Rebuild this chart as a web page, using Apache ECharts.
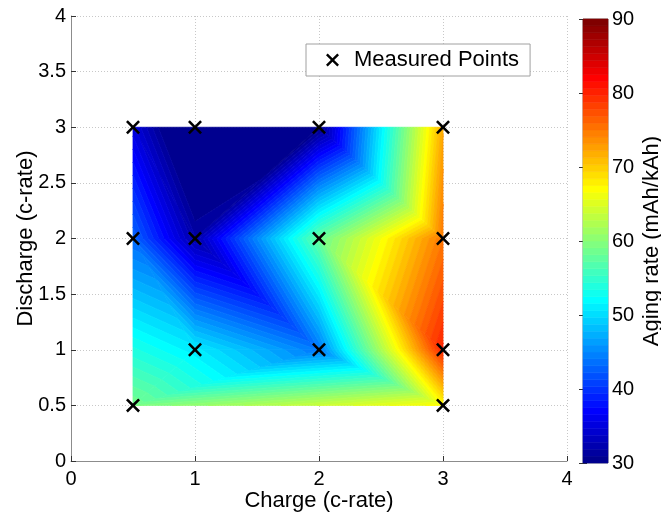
<!DOCTYPE html>
<html>
<head>
<meta charset="utf-8">
<script src="https://cdn.jsdelivr.net/npm/echarts@6/dist/echarts.min.js"></script>
<style>
	html, body { margin: 0; padding: 0; background: #fff; }
	#chart { width: 661px; height: 512px; }
</style>
</head>
<body>
<div id="chart"></div>
<script>
// measured points
var chargeRate    = [0.5, 1, 2, 3,   0.5, 1, 2, 3,   1, 2, 3,   0.5, 3];
var dischargeRate = [3, 3, 3, 3,     2, 2, 2, 2,     1, 1, 1,   0.5, 0.5];
var agingRate     = [35, 25, 30, 72, 43, 32, 58, 75, 51, 44, 80, 59, 67];

// triangulation of the measured points (indices into the arrays above)
var triangles = [
	[0, 1, 5], [0, 5, 4], [1, 2, 5], [2, 6, 5], [2, 3, 7], [2, 7, 6],
	[4, 5, 8], [4, 8, 11], [5, 9, 8], [5, 6, 9], [6, 7, 10], [6, 10, 9],
	[8, 9, 11], [9, 12, 11], [9, 10, 12]
];

var axisTicks = [0, 1, 2, 3, 4];
var colorRange = [30, 90];
var nLevels = 64;

var axisGray = '#8c8c8c';
var xPath = 'path://M1.3,0L5,3.7L8.7,0L10,1.3L6.3,5L10,8.7L8.7,10L5,6.3L1.3,10L0,8.7L3.7,5L0,1.3Z';

// matlab jet(64)
var jet = (function () {
	var m = nLevels, n = Math.ceil(m / 4), u = [], i;
	for (i = 1; i <= n; i++) u.push(i / n);
	for (i = 1; i < n; i++) u.push(1);
	for (i = n; i >= 1; i--) u.push(i / n);
	var g0 = Math.ceil(n / 2) - (m % 4 === 1 ? 1 : 0);
	var cols = [];
	for (i = 0; i < m; i++) cols.push([0, 0, 0]);
	for (i = 0; i < u.length; i++) {
		var g = g0 + i + 1, r = g + n, b = g - n;
		if (r <= m) cols[r - 1][0] = u[i];
		cols[g - 1][1] = u[i];
		if (b >= 1) cols[b - 1][2] = u[i];
	}
	return cols.map(function (c) {
		return 'rgb(' + Math.round(c[0] * 255) + ',' + Math.round(c[1] * 255) + ',' + Math.round(c[2] * 255) + ')';
	});
})();

function clip(poly, lev, above) {			// keep part of polygon on one side of level
	var out = [];
	for (var i = 0; i < poly.length; i++) {
		var a = poly[i], b = poly[(i + 1) % poly.length];
		var ain = above ? a.v >= lev : a.v <= lev,
			bin = above ? b.v >= lev : b.v <= lev;
		if (ain) out.push(a);
		if (ain !== bin) {
			var t = (lev - a.v) / (b.v - a.v);
			out.push({ x: a.x + t * (b.x - a.x), y: a.y + t * (b.y - a.y), v: lev });
		}
	}
	return out;
}

function renderTri(params, api) {
	var tri = triangles[params.dataIndex];
	var poly = tri.map(function (k) {
		return { x: chargeRate[k], y: dischargeRate[k], v: agingRate[k] };
	});
	var step = (colorRange[1] - colorRange[0]) / nLevels;
	var children = [];
	for (var k = 0; k < nLevels; k++) {
		var p = poly;
		if (k > 0) p = clip(p, colorRange[0] + k * step, true);
		if (p.length < 3) continue;
		if (k < nLevels - 1) p = clip(p, colorRange[0] + (k + 1) * step, false);
		if (p.length < 3) continue;
		children.push({
			type: 'polygon',
			shape: { points: p.map(function (q) { return api.coord([q.x, q.y]); }) },
			style: { fill: jet[k], stroke: jet[k], lineWidth: 0.8 }
		});
	}
	return { type: 'group', children: children };
}

function renderBar(params, api) {
	var step = (colorRange[1] - colorRange[0]) / nLevels;
	var children = [];
	for (var k = 0; k < nLevels; k++) {
		var p0 = api.coord([0, colorRange[0] + k * step]),
			p1 = api.coord([1, colorRange[0] + (k + 1) * step]);
		children.push({
			type: 'rect',
			shape: { x: p0[0], y: p1[1], width: p1[0] - p0[0], height: p0[1] - p1[1] },
			style: { fill: jet[k], stroke: jet[k], lineWidth: 0.6 }
		});
	}
	return { type: 'group', children: children };
}

var font = 'Liberation Sans, Arial, sans-serif';

var chart = echarts.init(document.getElementById('chart'));
chart.setOption({
	animation: false,
	textStyle: { fontFamily: font },
	grid: [
		{ left: 71, top: 16, right: 94, bottom: 51, outerBoundsMode: 'none', containLabel: false },
		{ left: 583, top: 19, width: 25, bottom: 49, outerBoundsMode: 'none', containLabel: false,
			show: true, borderColor: axisGray, borderWidth: 1 }
	],
	legend: {
		left: 306, top: 44,
		padding: [5, 11, 5, 20],
		itemWidth: 33, itemHeight: 13,
		backgroundColor: '#fff',
		borderColor: '#a0a0a0', borderWidth: 1, borderRadius: 0,
		textStyle: { fontSize: 22, color: '#000', fontFamily: font },
		data: [{ name: 'Measured Points', icon: xPath }]
	},
	xAxis: [
		{
			gridIndex: 0, type: 'value', min: axisTicks[0], max: axisTicks[axisTicks.length - 1], interval: 1,
			name: 'Charge (c-rate)', nameLocation: 'middle', nameGap: 29, nameMoveOverlap: false,
			nameTextStyle: { fontSize: 22, color: '#000' },
			axisLine: { lineStyle: { color: axisGray } },
			axisTick: { inside: true, length: 5, lineStyle: { color: '#333' } },
			axisLabel: { fontSize: 20, color: '#000', margin: 8 },
			splitLine: { show: true, lineStyle: { color: '#c8c8c8', type: [1, 2] } }
		},
		{ gridIndex: 1, type: 'value', min: 0, max: 1, show: false }
	],
	yAxis: [
		{
			gridIndex: 0, type: 'value', min: 0, max: 4, interval: 0.5,
			name: 'Discharge (c-rate)', nameLocation: 'middle', nameGap: 34, nameMoveOverlap: false,
			nameTextStyle: { fontSize: 22, color: '#000' },
			axisLine: { show: true, lineStyle: { color: axisGray } },
			axisTick: { show: true, inside: true, length: 5, lineStyle: { color: '#333' } },
			axisLabel: { fontSize: 20, color: '#000', margin: 5 },
			splitLine: { show: true, lineStyle: { color: '#c8c8c8', type: [1, 2] } }
		},
		{
			gridIndex: 1, type: 'value', min: colorRange[0], max: colorRange[1], interval: 10,
			position: 'right',
			name: 'Aging rate (mAh/kAh)', nameLocation: 'middle', nameGap: 33, nameRotate: 90,
			nameMoveOverlap: false,
			nameTextStyle: { fontSize: 22, color: '#000' },
			axisLine: { show: false },
			axisTick: { show: true, inside: true, length: 4, lineStyle: { color: '#333' } },
			axisLabel: { fontSize: 20, color: '#000', margin: 4 },
			splitLine: { show: false }
		},
		{
			gridIndex: 1, type: 'value', min: colorRange[0], max: colorRange[1], interval: 10,
			position: 'left',
			axisLine: { show: false },
			axisTick: { show: true, inside: true, length: 4, lineStyle: { color: '#333' } },
			axisLabel: { show: false },
			splitLine: { show: false }
		}
	],
	series: [
		{
			type: 'custom', name: 'surface', xAxisIndex: 0, yAxisIndex: 0,
			renderItem: renderTri, data: triangles.map(function (t, i) { return [i]; }),
			silent: true, z: 1
		},
		{
			type: 'scatter', name: 'Measured Points', xAxisIndex: 0, yAxisIndex: 0,
			symbol: xPath, symbolSize: 14,
			itemStyle: { color: '#000', opacity: 1 },
			data: chargeRate.map(function (x, i) { return [x, dischargeRate[i]]; }),
			clip: false, z: 5
		},
		{
			type: 'custom', name: 'colorbar', xAxisIndex: 1, yAxisIndex: 1,
			renderItem: renderBar, data: [[0]], silent: true, z: 1
		}
	]
});
</script>
</body>
</html>
